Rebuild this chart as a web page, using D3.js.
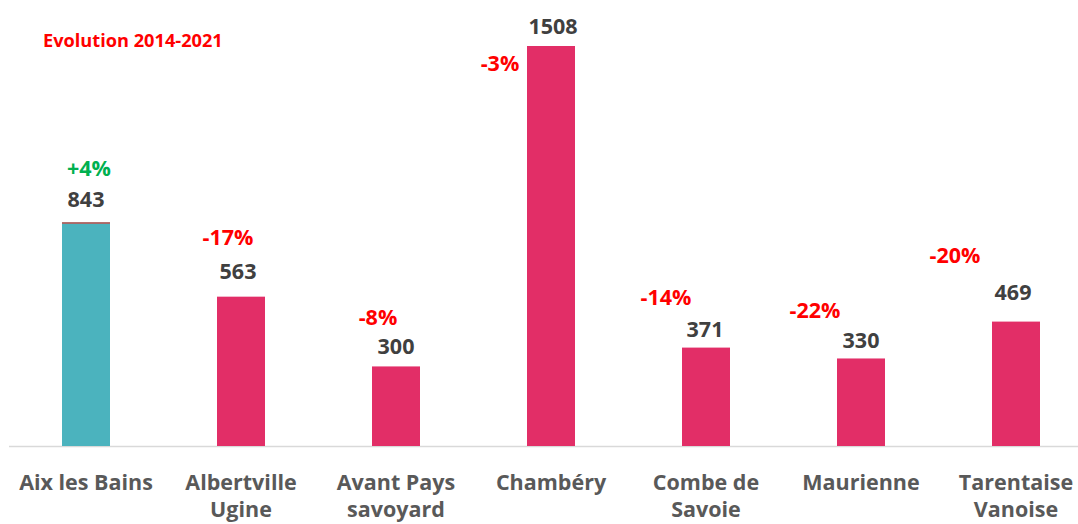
<!DOCTYPE html>
<html>
<head>
<meta charset="utf-8">
<script src="https://cdn.jsdelivr.net/npm/d3@7"></script>
<style>
  html, body { margin: 0; padding: 0; background: #fff; }
  svg { display: block; }
  text { font-family: "Open Sans", Lato, sans-serif; font-weight: 700; font-variant-ligatures: none; }
</style>
</head>
<body>
<svg id="chart" width="1078" height="524"></svg>
<script>
// ---- Data ----
const categories = ["Aix les Bains", "Albertville Ugine", "Avant Pays savoyard", "Chambéry", "Combe de Savoie", "Maurienne", "Tarentaise Vanoise"];
const values = [843, 563, 300, 1508, 371, 330, 469];
const evolution = ["+4%", "-17%", "-8%", "-3%", "-14%", "-22%", "-20%"];
const title = "Evolution 2014-2021";

// ---- Layout (label placement, as positioned in the original) ----
const valueLabelOffsets = [[0, -15], [-3, -18], [0, -12], [2, -12], [-1, -11], [0, -10], [-3, -22]];
const evoLabelOffsets = [[3, -46], [-13, -52], [-18, -41], [-51, 25], [-40, -43], [-46, -40], [-61, -59]];

const W = 1078, H = 524;
const FS = 21.5;
const svg = d3.select("#chart");

const x = d3.scaleBand().domain(categories).range([8.5, 1093.5]).paddingInner(0).paddingOuter(0);
const y = d3.scaleLinear().domain([0, 1600]).range([446, 21.6]);
const barW = 48;

const isUp = i => evolution[i].startsWith("+");

// axis baseline
svg.append("line")
  .attr("x1", 9).attr("x2", W).attr("y1", y(0) + 0.5).attr("y2", y(0) + 0.5)
  .attr("stroke", "#D9D9D9").attr("stroke-width", 1.5);

// bars
const g = svg.append("g");
g.selectAll("rect.bar").data(values).join("rect")
  .attr("class", "bar")
  .attr("x", (d, i) => x(categories[i]) + x.bandwidth() / 2 - barW / 2)
  .attr("y", d => y(d))
  .attr("width", barW)
  .attr("height", d => y(0) - y(d))
  .attr("fill", (d, i) => isUp(i) ? "#4BB3BE" : "#E22E67");

// thin top accent on the increasing bar
g.selectAll("line.accent").data(values.map((d, i) => ({d, i})).filter(o => isUp(o.i))).join("line")
  .attr("class", "accent")
  .attr("x1", o => x(categories[o.i]) + x.bandwidth() / 2 - barW / 2)
  .attr("x2", o => x(categories[o.i]) + x.bandwidth() / 2 + barW / 2)
  .attr("y1", o => y(o.d) + 0.5).attr("y2", o => y(o.d) + 0.5)
  .attr("stroke", "#C0504D").attr("stroke-width", 1.5);

// value labels
svg.selectAll("text.val").data(values).join("text")
  .attr("class", "val")
  .attr("x", (d, i) => x(categories[i]) + x.bandwidth() / 2 + valueLabelOffsets[i][0])
  .attr("y", (d, i) => y(d) + valueLabelOffsets[i][1])
  .attr("text-anchor", "middle")
  .attr("font-size", FS)
  .attr("fill", "#404040")
  .text(d => d);

// evolution labels
svg.selectAll("text.evo").data(evolution).join("text")
  .attr("class", "evo")
  .attr("x", (d, i) => x(categories[i]) + x.bandwidth() / 2 + evoLabelOffsets[i][0])
  .attr("y", (d, i) => y(values[i]) + evoLabelOffsets[i][1])
  .attr("text-anchor", "middle")
  .attr("font-size", FS)
  .attr("fill", (d, i) => isUp(i) ? "#00B050" : "#FF0000")
  .text(d => d);

// category axis labels with wrapping
const axisG = svg.append("g").attr("transform", `translate(0, ${y(0)})`);
axisG.call(d3.axisBottom(x).tickSize(0).tickPadding(0));
axisG.select(".domain").remove();
axisG.selectAll(".tick text")
  .attr("font-size", FS)
  .attr("fill", "#595959")
  .attr("font-family", "'Open Sans', Lato, sans-serif")
  .attr("font-weight", 700)
  .attr("dy", null)
  .attr("y", 0)
  .each(function(d) {
    const t = d3.select(this);
    const words = d.split(" ");
    const maxW = 148;
    t.text(null);
    let lines = [], cur = [];
    const tmp = t.append("tspan");
    words.forEach(w => {
      const test = cur.concat([w]).join(" ");
      tmp.text(test);
      if (tmp.node().getComputedTextLength() > maxW && cur.length) {
        lines.push(cur.join(" "));
        cur = [w];
      } else cur.push(w);
    });
    lines.push(cur.join(" "));
    tmp.remove();
    lines.forEach((ln, k) => {
      t.append("tspan").attr("x", 0).attr("y", 44 + k * 27).text(ln);
    });
  });

// title
svg.append("text")
  .attr("x", 43).attr("y", 47)
  .attr("font-size", 18.2)
  .attr("fill", "#FF0000")
  .text(title);
</script>
</body>
</html>
